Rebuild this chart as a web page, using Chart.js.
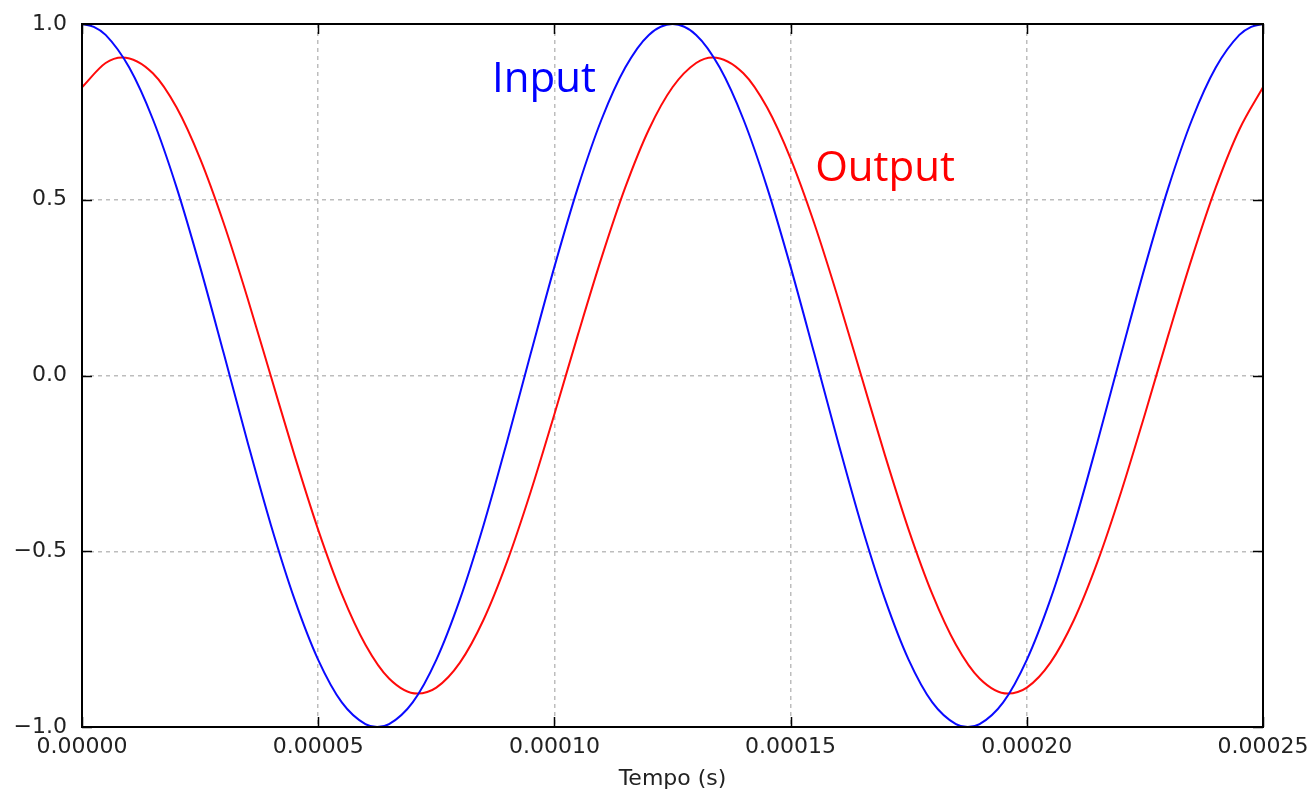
<!DOCTYPE html>
<html>
<head>
<meta charset="utf-8">
<script src="https://cdn.jsdelivr.net/npm/chart.js@4/dist/chart.umd.min.js"></script>
<style>
  body { margin: 0; background: #fff; }
</style>
</head>
<body>
<canvas id="plot" width="1310" height="792"></canvas>
<script>
// input: time samples (s) and values
const inputTime = [
    0, 0.0000025, 0.000005, 0.00001, 0.000015, 0.00002, 0.000025, 0.00003, 0.000035, 0.00004,
    0.000045, 0.00005, 0.000055, 0.00006, 0.0000625, 0.000065, 0.00007, 0.000075, 0.00008, 0.000085,
    0.00009, 0.000095, 0.0001, 0.000105, 0.00011, 0.000115, 0.00012, 0.000125, 0.00013, 0.000135,
    0.00014, 0.000145, 0.00015, 0.000155, 0.00016, 0.000165, 0.00017, 0.000175, 0.00018, 0.000185,
    0.0001875, 0.00019, 0.000195, 0.0002, 0.000205, 0.00021, 0.000215, 0.00022, 0.000225, 0.00023,
    0.000235, 0.00024, 0.000245, 0.0002475, 0.00025
];
const inputSignal = [
    1.000, 0.992, 0.969, 0.876, 0.729, 0.536, 0.309, 0.063, -0.187, -0.426,
    -0.637, -0.809, -0.930, -0.992, -1.000, -0.992, -0.930, -0.809, -0.637, -0.426,
    -0.187, 0.063, 0.309, 0.536, 0.729, 0.876, 0.969, 1.000, 0.969, 0.876,
    0.729, 0.536, 0.309, 0.063, -0.187, -0.426, -0.637, -0.809, -0.930, -0.992,
    -1.000, -0.992, -0.930, -0.809, -0.637, -0.426, -0.187, 0.063, 0.309, 0.536,
    0.729, 0.876, 0.969, 0.992, 1.000
];

// output: time samples (s) and values
const outputTime = [
    0, 0.000005, 0.0000085, 0.000015, 0.00002, 0.000025, 0.00003, 0.000035, 0.00004, 0.000045,
    0.00005, 0.000055, 0.00006, 0.000065, 0.000071, 0.000075, 0.00008, 0.000085, 0.00009, 0.000095,
    0.0001, 0.000105, 0.00011, 0.000115, 0.00012, 0.000125, 0.00013, 0.0001335, 0.00014, 0.000145,
    0.00015, 0.000155, 0.00016, 0.000165, 0.00017, 0.000175, 0.00018, 0.000185, 0.00019, 0.000196,
    0.0002, 0.000205, 0.00021, 0.000215, 0.00022, 0.000225, 0.00023, 0.000235, 0.00024, 0.000245,
    0.00025
];
const outputSignal = [
    0.820, 0.889, 0.905, 0.860, 0.763, 0.617, 0.433, 0.222, -0.003, -0.228,
    -0.439, -0.622, -0.766, -0.862, -0.905, -0.888, -0.817, -0.695, -0.529, -0.330,
    -0.110, 0.117, 0.336, 0.535, 0.700, 0.820, 0.889, 0.905, 0.860, 0.763,
    0.617, 0.433, 0.222, -0.003, -0.228, -0.439, -0.622, -0.766, -0.862, -0.905,
    -0.888, -0.817, -0.695, -0.529, -0.330, -0.110, 0.117, 0.336, 0.535, 0.700,
    0.820
];

const xTicks = [0, 0.00005, 0.0001, 0.00015, 0.0002, 0.00025];
const yTicks = [-1.0, -0.5, 0.0, 0.5, 1.0];
const xLabel = 'Tempo (s)';

// text labels placed in data coordinates
const notes = [
    { text: 'Input', x: 0.0000868, y: 0.807, color: '#0000ff' },
    { text: 'Output', x: 0.0001552, y: 0.553, color: '#ff0000' }
];

const tickFont = { family: 'DejaVu Sans', size: 22 };

//frame, inward ticks and the two labels
const framePlugin = {
    id: 'frame',
    afterDatasetsDraw(chart) {
        const { ctx, chartArea: a, scales: { x, y } } = chart;
        ctx.save();
        ctx.strokeStyle = '#000';
        ctx.lineWidth = 1.5;
        ctx.beginPath();
        xTicks.forEach(v => {
            const px = Math.round(x.getPixelForValue(v)) + 0.5;
            ctx.moveTo(px, a.bottom); ctx.lineTo(px, a.bottom - 10);
            ctx.moveTo(px, a.top); ctx.lineTo(px, a.top + 10);
        });
        yTicks.forEach(v => {
            const py = Math.round(y.getPixelForValue(v)) + 0.5;
            ctx.moveTo(a.left, py); ctx.lineTo(a.left + 10, py);
            ctx.moveTo(a.right, py); ctx.lineTo(a.right - 10, py);
        });
        ctx.stroke();
        ctx.lineWidth = 2;
        ctx.strokeRect(a.left, a.top, a.right - a.left, a.bottom - a.top);

        ctx.font = '42px "Open Sans"';
        ctx.textAlign = 'left';
        ctx.textBaseline = 'alphabetic';
        notes.forEach(n => {
            ctx.fillStyle = n.color;
            ctx.fillText(n.text, x.getPixelForValue(n.x), y.getPixelForValue(n.y));
        });
        ctx.restore();
    }
};

const points = (ts, vals) => vals.map((v, i) => ({ x: ts[i], y: v }));

new Chart(document.getElementById('plot'), {
    type: 'line',
    data: {
        datasets: [
            {
                label: 'Input',
                data: points(inputTime, inputSignal),
                borderColor: '#0a0aff',
                borderWidth: 2,
                pointRadius: 0,
                cubicInterpolationMode: 'monotone'
            },
            {
                label: 'Output',
                data: points(outputTime, outputSignal),
                borderColor: '#ff0a0a',
                borderWidth: 2,
                pointRadius: 0,
                cubicInterpolationMode: 'monotone'
            }
        ]
    },
    options: {
        responsive: false,
        animation: false,
        layout: { padding: { top: 24, right: 47, left: 0, bottom: 0 } },
        plugins: {
            legend: { display: false },
            tooltip: { enabled: false }
        },
        scales: {
            x: {
                type: 'linear',
                min: 0,
                max: 0.00025,
                afterFit: s => {
                    s.height = 65;
                    s.paddingLeft = 0;
                    s.paddingRight = 0;
                },
                afterBuildTicks: s => { s.ticks = xTicks.map(v => ({ value: v })); },
                ticks: {
                    font: tickFont,
                    color: '#222',
                    padding: 7,
                    maxRotation: 0,
                    callback: v => Number(v).toFixed(5)
                },
                grid: { color: '#bdbdbd', lineWidth: 1.5, drawTicks: false },
                border: { display: false, dash: [4, 4] },
                title: {
                    display: true,
                    text: xLabel,
                    font: { family: 'DejaVu Sans', size: 22 },
                    color: '#222',
                    padding: { top: 0, bottom: 0 }
                }
            },
            y: {
                min: -1,
                max: 1,
                afterFit: s => { s.width = 82; },
                afterBuildTicks: s => { s.ticks = yTicks.map(v => ({ value: v })); },
                ticks: {
                    font: tickFont,
                    color: '#222',
                    padding: 0,
                    callback: v => Number(v).toFixed(1).replace('-', '\u2212')
                },
                // invisible outer tick keeps the labels 15px off the axis
                grid: {
                    color: '#bdbdbd',
                    lineWidth: 1.5,
                    drawTicks: true,
                    tickLength: 15,
                    tickColor: 'rgba(0,0,0,0)'
                },
                border: { display: false, dash: [4, 4] }
            }
        }
    },
    plugins: [framePlugin]
});
</script>
</body>
</html>
